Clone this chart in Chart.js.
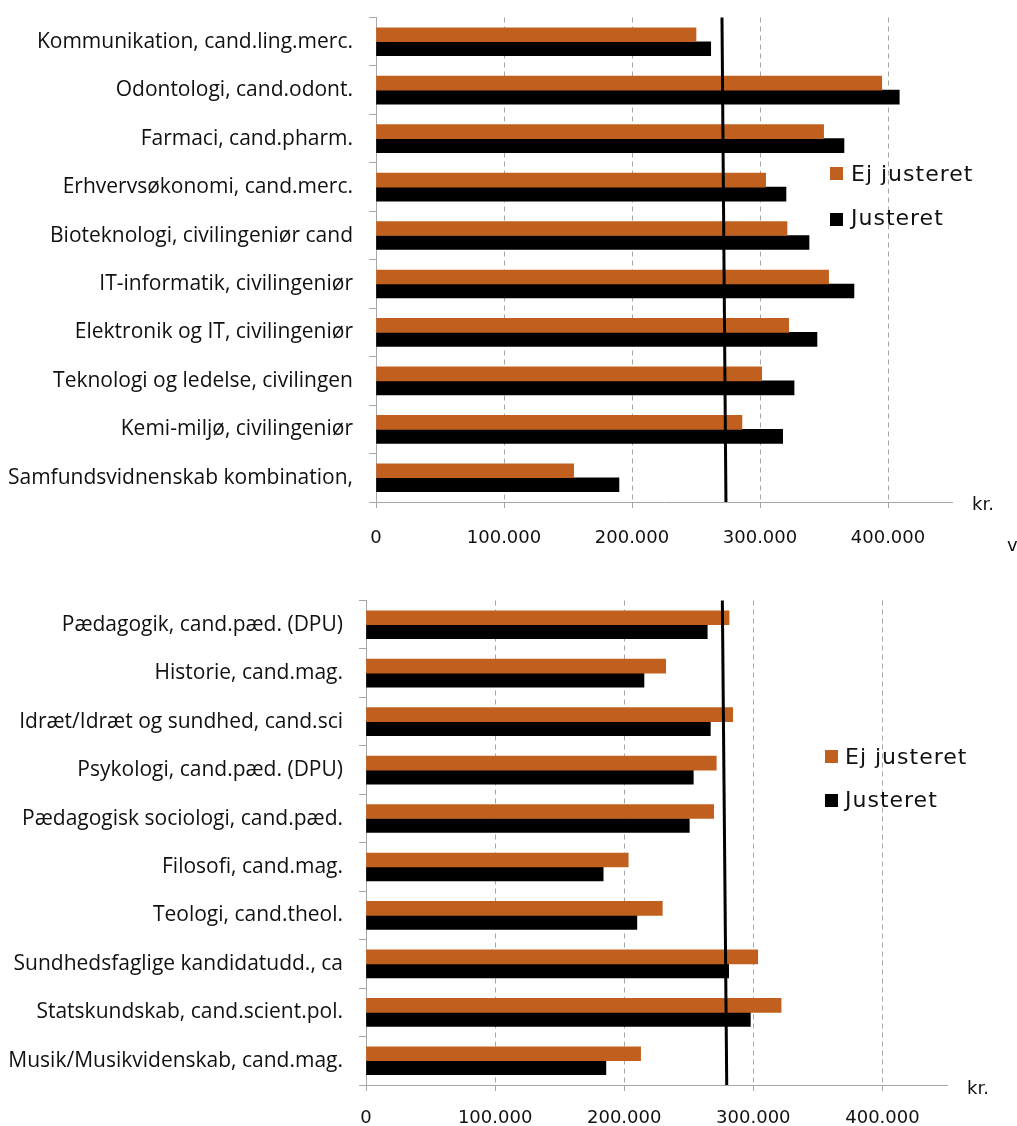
<!DOCTYPE html>
<html>
<head>
<meta charset="utf-8">
<script src="https://cdn.jsdelivr.net/npm/chart.js@4.4.1/dist/chart.umd.min.js"></script>
<style>
body{margin:0;background:#fff;width:1017px;height:1126px;overflow:hidden;position:relative;font-family:"DejaVu Sans",sans-serif;color:#111;}
.box{position:absolute;left:0;width:1017px;}
.lbl{position:absolute;font-size:22px;line-height:22px;letter-spacing:1px;white-space:nowrap;}
.sq{position:absolute;width:13px;height:13px;}
.kr{position:absolute;font-size:18px;line-height:18px;white-space:nowrap;}
</style>
</head>
<body>
<div class="box" style="top:0;height:560px"><canvas id="topChart"></canvas></div>
<div class="box" style="top:560px;height:566px"><canvas id="botChart"></canvas></div>
<div id="overlay"></div>
<script>
// data
const seriesNames = ['Ej justeret', 'Justeret'];
const seriesColors = ['#C1601E', '#000000'];

const topLabels = ['Kommunikation, cand.ling.merc.', 'Odontologi, cand.odont.', 'Farmaci, cand.pharm.',
  'Erhvervsøkonomi, cand.merc.', 'Bioteknologi, civilingeniør cand', 'IT-informatik, civilingeniør',
  'Elektronik og IT, civilingeniør', 'Teknologi og ledelse, civilingen', 'Kemi-miljø, civilingeniør',
  'Samfundsvidnenskab kombination,'];
const topEj   = [250000, 395100, 349700, 304400, 321100, 353600, 322400, 301300, 285900, 154400];
const topJust = [261500, 408800, 365600, 320300, 338300, 373400, 344500, 326600, 317700, 189800];
const topRefX = [270300, 273400];

const botLabels = ['Pædagogik, cand.pæd. (DPU)', 'Historie, cand.mag.', 'Idræt/Idræt og sundhed, cand.sci',
  'Psykologi, cand.pæd. (DPU)', 'Pædagogisk sociologi, cand.pæd.', 'Filosofi, cand.mag.',
  'Teologi, cand.theol.', 'Sundhedsfaglige kandidatudd., ca', 'Statskundskab, cand.scient.pol.',
  'Musik/Musikvidenskab, cand.mag.'];
const botEj   = [281200, 232100, 284000, 271300, 269300, 203100, 229500, 303400, 321500, 212700];
const botJust = [264300, 215300, 266700, 253500, 250400, 183700, 209800, 280900, 297700, 185800];
const botRefX = [276000, 279400];

const xTicks = [0, 100000, 200000, 300000, 400000];
const xMax = 450000;
const unitText = 'kr.';

function fmt(v){
  return String(v).replace(/\B(?=(\d{3})+(?!\d))/g, '.');
}

function makeChart(id, labels, ej, just, refX, lay){
  let n = labels.length;
  let refY = [-0.5, n - 0.5];   // the reference line spans the whole plot
  // y positions: category centres at whole numbers, tick marks halfway between
  let yTicks = [];
  for (let i = 0; i <= 2 * n; i++) yTicks.push(i / 2 - 0.5);

  return new Chart(document.getElementById(id), {
    type: 'bar',
    data: {
      datasets: [
        {label: seriesNames[0], data: ej.map(function(v, i){ return {x: v, y: i}; }), backgroundColor: seriesColors[0], order: 1},
        {label: seriesNames[1], data: just.map(function(v, i){ return {x: v, y: i}; }), backgroundColor: seriesColors[1], order: 1},
        {type: 'line', label: 'ref', data: refX.map(function(x, i){ return {x: x, y: refY[i]}; }),
         borderColor: '#000', borderWidth: 3, pointRadius: 0, tension: 0, clip: false, order: 0}
      ]
    },
    options: {
      indexAxis: 'y',
      responsive: true,
      maintainAspectRatio: false,
      animation: false,
      layout: {padding: {top: lay.top, right: lay.right, left: 0, bottom: 0}},
      datasets: {bar: {barThickness: 14}},
      plugins: {legend: {display: false}, tooltip: {enabled: false}},
      scales: {
        x: {
          type: 'linear', min: 0, max: xMax,
          afterBuildTicks: function(s){ s.ticks = xTicks.map(function(v){ return {value: v}; }); },
          afterFit: function(s){ s.height = lay.xh; },
          ticks: {autoSkip: false, callback: function(v){ return fmt(v); }, maxRotation: 0,
                  font: {family: 'DejaVu Sans', size: 18}, color: '#111', padding: lay.xpad},
          grid: {color: '#a6a6a6', tickLength: 6},
          border: {color: '#a6a6a6', dash: [5, 4]}
        },
        y: {
          type: 'linear', reverse: true, min: -0.5, max: n - 0.5, offset: false,
          afterBuildTicks: function(s){ s.ticks = yTicks.map(function(v){ return {value: v}; }); },
          afterFit: function(s){ s.width = lay.yw; s.paddingTop = 0; s.paddingBottom = 0; },
          ticks: {autoSkip: false, font: {family: 'Open Sans', size: 21}, color: '#111', padding: 16,
                  callback: function(v){ return Number.isInteger(v) ? labels[v] : ''; }},
          grid: {offset: false, drawOnChartArea: false, tickLength: 7,
                 color: function(c){ return c.tick && !Number.isInteger(c.tick.value) ? '#a6a6a6' : 'rgba(0,0,0,0)'; }},
          border: {color: '#a6a6a6'}
        }
      }
    }
  });
}

makeChart('topChart', topLabels, topEj, topJust, topRefX, {top: 17.5, right: 65, xh: 58, yw: 376, xpad: 20});
makeChart('botChart', botLabels, botEj, botJust, botRefX, {top: 40.5, right: 70, xh: 41, yw: 366, xpad: 17});

// legends and unit labels
function addLegend(sqLeft, sqTops, txtLeft, txtTops){
  let html = '';
  seriesNames.forEach(function(name, i){
    html += '<div class="sq" style="left:' + sqLeft + 'px;top:' + sqTops[i] + 'px;background:' + seriesColors[i] + '"></div>';
    html += '<div class="lbl" style="left:' + txtLeft + 'px;top:' + txtTops[i] + 'px">' + name + '</div>';
  });
  return html;
}

let overlay = addLegend(830, [167, 213], 851, [163, 207]) + addLegend(825, [750, 794], 845, [746, 789]);
overlay += '<div class="kr" style="left:972px;top:495px">' + unitText + '</div>';
overlay += '<div class="kr" style="left:1007px;top:536px">v</div>';
overlay += '<div class="kr" style="left:967px;top:1079px">' + unitText + '</div>';
document.getElementById('overlay').innerHTML = overlay;
</script>
</body>
</html>
